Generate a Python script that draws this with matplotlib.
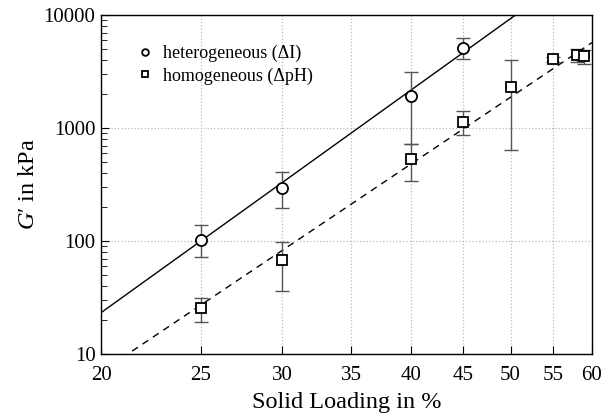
import numpy as np
import matplotlib
matplotlib.use("Agg")
import matplotlib.pyplot as plt
from matplotlib.ticker import FixedLocator, NullFormatter, LogLocator

# Data
het_x = [25, 30, 40, 45]
het_y = [103, 297, 1910, 5090]
het_lo = [72, 194, 716, 4070]
het_hi = [138, 412, 3119, 6250]

hom_x = [25, 30, 40, 45, 50, 55, 58, 59]
hom_y = [25.6, 68, 527, 1122, 2296, 4070, 4415, 4325]
hom_lo = [19.2, 36.2, 343, 861, 634, 3850, 3830, 3700]
hom_hi = [31, 98.6, 716, 1405, 3990, 4250, 4990, 4880]

# power-law fits G = A*(x/20)^b
het_fit = (23.2, 6.54)
hom_fit = (6.93, 6.11)

xticks = [20, 25, 30, 35, 40, 45, 50, 55, 60]
yticks = [10, 100, 1000, 10000]

plt.rcParams['font.family'] = ['Liberation Serif', 'DejaVu Serif']
plt.rcParams['mathtext.fontset'] = 'custom'
plt.rcParams['mathtext.rm'] = 'Liberation Serif'
plt.rcParams['mathtext.it'] = 'Liberation Serif:italic'

fig = plt.figure(figsize=(6.16, 4.18), dpi=100)
ax = fig.add_axes([101 / 616, 64 / 418, 491 / 616, 339 / 418])
ax.set_xscale('log')
ax.set_yscale('log')
ax.set_xlim(20, 60)
ax.set_ylim(10, 10000)

xf = np.linspace(20, 60, 200)
ax.plot(xf, het_fit[0] * (xf / 20) ** het_fit[1], color='black', lw=1.0, zorder=2)
ax.plot(xf, hom_fit[0] * (xf / 20) ** hom_fit[1], color='black', lw=1.0,
        ls=(0, (5, 4)), zorder=2)

def eb(x, y, lo, hi):
    y = np.array(y); lo = np.array(lo); hi = np.array(hi)
    ax.errorbar(x, y, yerr=[y - lo, hi - y], fmt='none', ecolor='#555555',
                elinewidth=1.0, capsize=5, capthick=1.0, zorder=3)

eb(het_x, het_y, het_lo, het_hi)
eb(hom_x, hom_y, hom_lo, hom_hi)

ax.plot(het_x, het_y, 'o', ms=8, mfc='white', mec='black', mew=1.3, ls='none',
        zorder=4, label='heterogeneous (ΔI)')
ax.plot(hom_x, hom_y, 's', ms=7, mfc='white', mec='black', mew=1.3, ls='none',
        zorder=4, label='homogeneous (ΔpH)')

ax.xaxis.set_major_locator(FixedLocator(xticks))
ax.xaxis.set_minor_locator(FixedLocator([]))
ax.set_xticklabels([str(t) for t in xticks])
ax.yaxis.set_major_locator(FixedLocator(yticks))
ax.set_yticklabels([str(t) for t in yticks])
ax.yaxis.set_minor_locator(LogLocator(base=10, subs=np.arange(2, 10)))
ax.yaxis.set_minor_formatter(NullFormatter())

ax.tick_params(axis='both', which='both', direction='in', labelsize=15,
               top=False, right=False, color='black')
ax.tick_params(axis='x', which='major', length=6, pad=9)
ax.tick_params(axis='y', which='major', length=6, pad=4)
ax.tick_params(axis='y', which='minor', length=4)

ax.grid(True, which='major', color='#bbbbbb', ls=':', lw=0.9)
for s in ax.spines.values():
    s.set_linewidth(1.0)

ax.set_xlabel('Solid Loading in %', fontsize=17.5, labelpad=5)
ax.set_ylabel("$G$\u2032 in kPa", fontsize=17.5, labelpad=3)

leg = ax.legend(loc='upper left', bbox_to_anchor=(0.035, 0.96), frameon=False,
                fontsize=13, handletextpad=0.4, labelspacing=0.3,
                markerscale=0.6, handlelength=1.2)

fig.savefig('out.png', dpi=100)
